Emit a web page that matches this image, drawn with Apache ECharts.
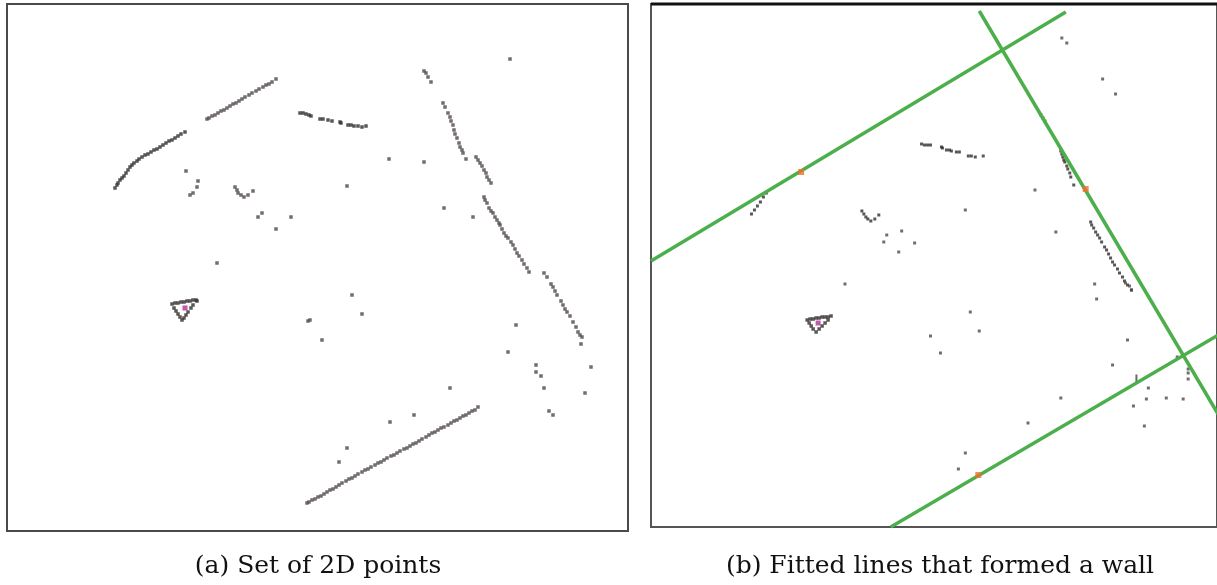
<!DOCTYPE html>
<html>
<head>
<meta charset="utf-8">
<title>Wall detection from 2D points</title>
<script src="https://cdn.jsdelivr.net/npm/echarts@6/dist/echarts.min.js"></script>
<style>
  html, body { margin: 0; padding: 0; background: #ffffff; }
  #chart { width: 1217px; height: 585px; }
</style>
</head>
<body>
<div id="chart"></div>
<script>
// ---------- Panel (a): raw 2D point set (plot units, y grows downward) ----------
const aArc = [[115,188],[117,185],[118,183],[120,180],[122,178],[124,176],[126,173],[128,170],[130,167],[132,165],[134,163],[137,161],[139,159],[142,157],[145,155],[148,154],[151,152],[154,150],[157,149],[160,147],[163,145],[166,143],[169,141],[172,140],[175,138],[178,136],[181,134],[185,132]];
const aUpper = [[207,119],[209,118],[212,116],[215,115],[218,113],[221,111],[224,110],[227,108],[230,106],[233,104],[236,103],[239,101],[242,99],[245,97],[249,95],[252,93],[256,91],[259,89],[263,87],[266,85],[269,84],[272,82],[276,79]];
const aTop = [[300,113],[303,113],[306,114],[309,115],[311,116],[320,119],[323,119],[328,120],[332,121],[340,122],[341,123],[348,125],[351,125],[354,126],[358,126],[362,127],[366,126]];
const aDiagonal = [[424,71],[426,73],[428,77],[431,82],[443,103],[445,107],[448,113],[450,117],[451,121],[453,125],[454,130],[455,134],[457,138],[459,143],[460,147],[462,150],[463,153],[466,159],[476,157],[478,160],[480,163],[482,166],[484,170],[486,173],[487,177],[489,180],[491,183],[484,197],[485,200],[487,203],[489,208],[491,211],[493,213],[495,217],[497,220],[499,223],[500,225],[502,229],[504,233],[506,236],[508,238],[511,242],[513,245],[515,249],[517,253],[519,256],[522,260],[524,264],[527,268],[529,272],[544,273],[547,277],[551,284],[553,287],[555,291],[557,295],[561,301],[563,305],[565,309],[567,312],[570,316],[573,322],[576,327],[578,332],[580,335],[582,337],[581,344]];
const aBottom = [[307,503],[309,502],[312,500],[315,499],[318,497],[321,496],[324,494],[327,492],[330,490],[333,489],[336,487],[339,485],[342,483],[346,481],[349,479],[352,478],[355,476],[358,474],[362,472],[365,470],[368,469],[371,467],[375,465],[378,463],[381,462],[384,460],[387,458],[391,456],[394,455],[397,453],[400,451],[404,449],[407,448],[410,446],[413,444],[416,443],[419,441],[422,439],[426,437],[429,435],[432,433],[435,432],[438,430],[441,428],[444,427],[448,425],[451,423],[454,421],[457,420],[460,418],[463,416],[466,415],[469,413],[472,411],[475,410],[478,407]];
const aTriangle = [[172,304],[175,303],[178,303],[181,302],[184,302],[187,301],[190,301],[193,300],[196,300],[197,301],[174,308],[176,311],[178,314],[180,317],[182,320],[184,318],[186,315],[188,312],[191,308],[193,305]];
const aScattered = [[510,59],[389,159],[424,162],[347,186],[186,171],[198,181],[197,187],[193,193],[190,195],[235,187],[237,190],[238,193],[241,195],[244,197],[248,195],[253,191],[262,213],[258,217],[291,217],[276,229],[217,263],[352,295],[362,314],[308,321],[310,320],[322,340],[444,208],[473,217],[516,325],[508,352],[591,367],[536,365],[536,372],[541,376],[544,388],[585,393],[549,411],[553,415],[450,388],[414,415],[390,422],[347,448],[339,462]];
const aSensor = [[185,308]];

// ---------- Panel (b): same scan with the fitted wall lines ----------
const bSegments = [[767,193],[764,197],[761,202],[758,206],[755,210],[752,214],
  [863,211],[865,214],[867,217],[869,219],[872,221],[876,219],[880,215],
  [923,144],[926,145],[929,145],[932,145],[943,147],[944,148],[948,150],[951,150],[953,151],[958,152],[961,152],[970,156],[973,156],[977,157],[985,156],
  [1043,115],[1045,118],[1047,121],[1063,151],[1064,154],[1065,157],[1066,160],[1067,162],[1069,166],[1070,169],[1072,173],[1073,177],[1076,185],
  [1093,222],[1094,225],[1096,228],[1098,232],[1100,235],[1102,238],[1104,242],[1107,247],[1109,250],[1111,254],[1113,258],[1115,262],[1117,265],[1120,269],[1122,273],[1125,277],[1127,281],[1130,285],[1134,290]];
const bTriangle = [[808,320],[811,319],[814,319],[817,318],[820,318],[823,317],[826,317],[829,317],[832,316],[810,323],[812,326],[814,329],[817,332],[820,329],[823,326],[826,323],[829,320]];
const bScattered = [[888,235],[903,231],[885,242],[900,252],[916,243],[1064,38],[1069,43],[1105,79],[1118,94],[1037,190],[967,210],[1058,232],[1097,284],[1099,299],[846,284],[932,336],[942,353],[1128,283],[1132,286],[1134,290],[972,312],[981,331],[1130,340],[1115,365],[1180,357],[1191,369],[1191,373],[1191,379],[1151,388],[1149,399],[1169,398],[1186,399],[1136,406],[1147,426],[1063,398],[1030,423],[967,453],[960,469]];
const bTick = [[1139,379]];
const bSensor = [[819,323]];
const wallLines = [
  [[651,261],[1068,12]],
  [[981,11],[1230,429]],
  [[892,527],[1230,330]]
];
const wallAnchors = [[802,172],[1088,189],[980,475]];

// ---------- Captions ----------
const captions = ['(a) Set of 2D points', '(b) Fitted lines that formed a wall'];

const POINT = '#514948';
const DARK = '#332d2d';
const WALL = '#4caf4c';

function axisPair(idx, xmin, xmax, ymin, ymax) {
  return {
    x: { type: 'value', gridIndex: idx, min: xmin, max: xmax, show: false },
    y: { type: 'value', gridIndex: idx, min: ymin, max: ymax, inverse: true, show: false }
  };
}
const axA = axisPair(0, 7, 628, 4, 531);
const axB = axisPair(1, 651, 1220, 4, 527);

function dots(data, grid, color, size) {
  return {
    type: 'scatter', xAxisIndex: grid, yAxisIndex: grid, data: data,
    symbol: 'rect', symbolSize: size, itemStyle: { color: color },
    silent: true, animation: false, z: 3
  };
}

const series = [
  dots(aArc, 0, DARK, 3.5), dots(aUpper, 0, POINT, 3.5), dots(aTop, 0, DARK, 3.5),
  dots(aDiagonal, 0, POINT, 3.5), dots(aBottom, 0, POINT, 3.5), dots(aTriangle, 0, DARK, 3.5),
  dots(aScattered, 0, POINT, 3.5), dots(aSensor, 0, '#b0309a', 5),
  dots(bSegments, 1, DARK, 3), dots(bTriangle, 1, DARK, 3.5), dots(bScattered, 1, POINT, 3),
  dots(bTick, 1, '#444', [2, 9]),
  dots(bSensor, 1, '#b0309a', 5)
];
wallLines.forEach(function (seg) {
  series.push({
    type: 'line', xAxisIndex: 1, yAxisIndex: 1, data: seg, showSymbol: false,
    clip: true, silent: true, animation: false, z: 4,
    lineStyle: { color: WALL, width: 3.5 }
  });
});
const anchorSeries = dots(wallAnchors, 1, '#f07030', 6);
anchorSeries.z = 5;
series.push(anchorSeries);

const chart = echarts.init(document.getElementById('chart'), null, { renderer: 'canvas' });
chart.setOption({
  backgroundColor: '#ffffff',
  animation: false,
  grid: [
    { left: 7, top: 4, width: 621, height: 527, show: true, borderColor: '#4a4a4a', borderWidth: 2, backgroundColor: '#ffffff' },
    { left: 651, top: 4, width: 575, height: 523, show: true, borderColor: '#555555', borderWidth: 2, backgroundColor: '#ffffff' }
  ],
  xAxis: [axA.x, axB.x],
  yAxis: [axA.y, axB.y],
  series: series,
  graphic: [
    { type: 'line', shape: { x1: 651, y1: 4, x2: 1217, y2: 4 }, style: { stroke: '#111111', lineWidth: 3 }, z: 10 },
    { type: 'text', x: 318, y: 566, style: { text: captions[0], font: '25px "DejaVu Serif"', fill: '#111', textAlign: 'center', textVerticalAlign: 'middle' } },
    { type: 'text', x: 940, y: 566, style: { text: captions[1], font: '25px "DejaVu Serif"', fill: '#111', textAlign: 'center', textVerticalAlign: 'middle' } }
  ]
});
</script>
</body>
</html>
